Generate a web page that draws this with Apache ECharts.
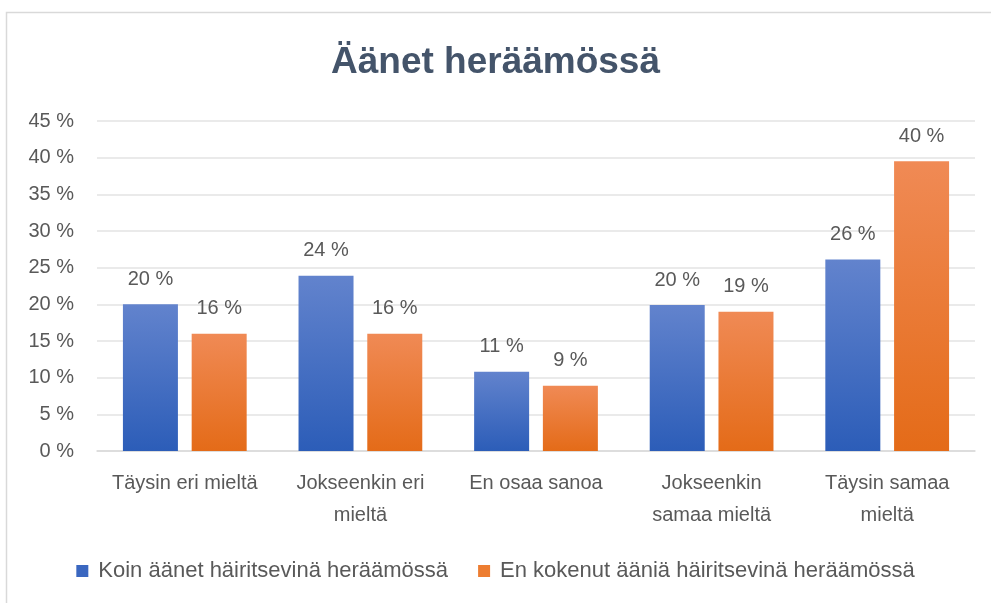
<!DOCTYPE html>
<html>
<head>
<meta charset="utf-8">
<script src="https://cdn.jsdelivr.net/npm/echarts@6/dist/echarts.min.js"></script>
<style>
  html, body { margin: 0; padding: 0; background: #fff; }
  #chart { width: 991px; height: 603px; }
</style>
</head>
<body>
<div id="chart"></div>
<script>
// 데이터
var categories = ['Täysin eri mieltä', 'Jokseenkin eri\nmieltä', 'En osaa sanoa', 'Jokseenkin\nsamaa mieltä', 'Täysin samaa\nmieltä'];
var seriesNames = ['Koin äänet häiritsevinä heräämössä', 'En kokenut ääniä häiritsevinä heräämössä'];
var koinList = [20, 23.9, 10.8, 19.9, 26.1];
var enList = [16, 16, 8.9, 19, 39.5];
var yTicks = [0, 45, 5];

var chart = echarts.init(document.getElementById('chart'));
var textColor = '#595959';
var font = 'Liberation Sans';

function grad(top, bottom) {
    return new echarts.graphic.LinearGradient(0, 0, 0, 1, [
        { offset: 0, color: top },
        { offset: 1, color: bottom }
    ]);
}

function pct(p) { return Math.round(p.value) + ' %'; }

var option = {
    animation: false,
    textStyle: { fontFamily: font },
    title: {
        text: 'Äänet heräämössä',
        left: 'center',
        top: 39,
        textStyle: { color: '#44546A', fontSize: 37, fontWeight: 'bold', fontFamily: font }
    },
    graphic: [{
        type: 'rect',
        left: 4, top: 10,
        shape: { width: 1000, height: 610 },
        style: { fill: 'none', stroke: '#D9D9D9', lineWidth: 1.5 },
        silent: true
    }],
    legend: {
        left: 'center',
        top: 555,
        itemWidth: 12,
        itemHeight: 12,
        itemGap: 30,
        icon: 'rect',
        textStyle: { color: textColor, fontSize: 22, fontFamily: font, padding: [0, 0, 0, 5] },
        data: [
            { name: seriesNames[0], itemStyle: { color: '#3A67C0' } },
            { name: seriesNames[1], itemStyle: { color: '#ED7D31' } }
        ]
    },
    grid: { left: 97, right: 16, top: 121, bottom: 152 },
    xAxis: {
        type: 'category',
        data: categories,
        axisTick: { show: false },
        axisLine: { lineStyle: { color: '#D9D9D9', width: 1.5 } },
        axisLabel: { color: textColor, fontSize: 20, margin: 16, lineHeight: 32, interval: 0 }
    },
    yAxis: {
        type: 'value',
        min: yTicks[0],
        max: yTicks[1],
        interval: yTicks[2],
        axisLine: { show: false },
        axisTick: { show: false },
        splitLine: { lineStyle: { color: '#E3E3E3', width: 1.5 } },
        axisLabel: { color: textColor, fontSize: 20, margin: 23, formatter: '{value} %' }
    },
    series: [
        {
            name: seriesNames[0],
            type: 'bar',
            data: koinList,
            barWidth: 55,
            barGap: '25%',
            itemStyle: { color: grad('#6283CD', '#2C5DB8') },
            label: { show: true, position: 'top', distance: 15, color: textColor, fontSize: 20, formatter: pct }
        },
        {
            name: seriesNames[1],
            type: 'bar',
            data: enList,
            barWidth: 55,
            itemStyle: { color: grad('#F08A55', '#E46B18') },
            label: { show: true, position: 'top', distance: 15, color: textColor, fontSize: 20, formatter: pct }
        }
    ]
};

chart.setOption(option);
</script>
</body>
</html>
